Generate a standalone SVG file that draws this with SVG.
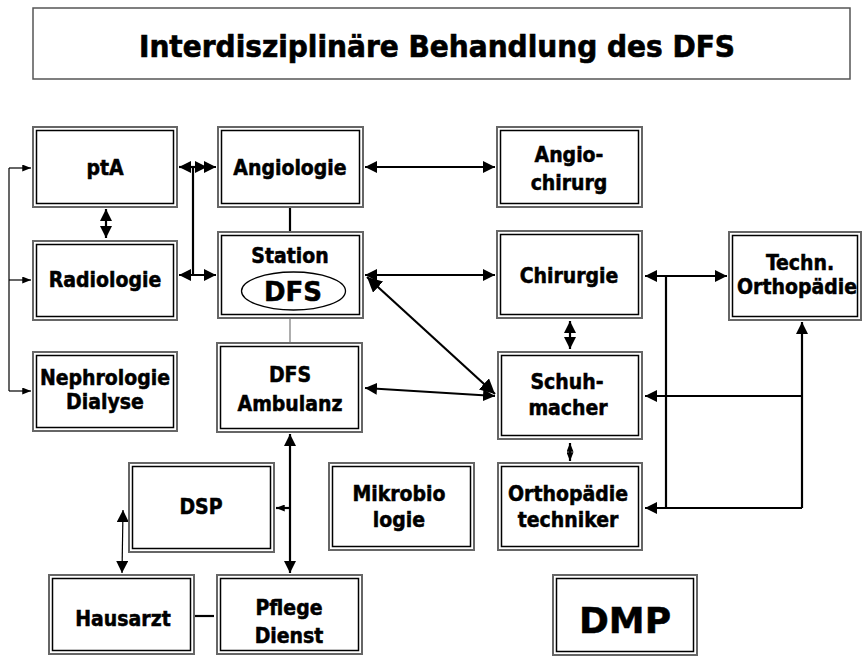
<svg xmlns="http://www.w3.org/2000/svg" width="863" height="662" viewBox="0 0 863 662">
<style>
.o{fill:#fff;stroke:#666;stroke-width:2}
.i{fill:none;stroke:#000;stroke-width:1.5}
.t{font-family:"DejaVu Sans Condensed","DejaVu Sans","Liberation Sans",sans-serif;font-weight:bold;font-size:21px;text-anchor:middle;fill:#000;stroke:#000;stroke-width:0.5}
.big{font-family:"DejaVu Sans","Liberation Sans",sans-serif}
.c{fill:none;stroke:#000;stroke-width:2.2}
.thin{fill:none;stroke:#000;stroke-width:1.2}
</style>
<defs>
<marker id="a" viewBox="0 0 12 12" refX="12" refY="6" markerWidth="12" markerHeight="12" markerUnits="userSpaceOnUse" orient="auto-start-reverse"><path d="M0,0 L12,6 L0,12 z" fill="#000"/></marker>
<marker id="b" viewBox="0 0 14 14" refX="14" refY="7" markerWidth="15" markerHeight="15" markerUnits="userSpaceOnUse" orient="auto-start-reverse"><path d="M0,0 L14,7 L0,14 z" fill="#000"/></marker>
<marker id="s" viewBox="0 0 10 8" refX="10" refY="4" markerWidth="9" markerHeight="7" markerUnits="userSpaceOnUse" orient="auto-start-reverse"><path d="M0,0 L10,4 L0,8 z" fill="#000"/></marker>
</defs>

<g id="title">
<rect x="33" y="8" width="817" height="71" fill="#fff" stroke="#555" stroke-width="1.5"/>
<text class="t" x="437" y="57" style="font-size:30px;stroke-width:0.6" textLength="596" lengthAdjust="spacingAndGlyphs">Interdisziplinäre Behandlung des DFS</text>
</g>

<g id="connectors">
<path class="thin" d="M9,168 V391"/>
<path class="thin" d="M9,168 H31" marker-end="url(#s)"/>
<path class="thin" d="M9,280 H31" marker-end="url(#s)"/>
<path class="thin" d="M9,391 H31" marker-end="url(#s)"/>
<path class="c" d="M106,209 V238" marker-start="url(#a)" marker-end="url(#a)"/>
<path class="c" d="M193,167 V275"/>
<path class="c" d="M179,167 H216" marker-start="url(#a)" marker-end="url(#a)"/>
<path class="c" d="M179,167 H207" marker-end="url(#a)"/>
<path class="c" d="M179,275 H216" marker-start="url(#a)" marker-end="url(#a)"/>
<path class="c" d="M290,207 V232"/>
<path fill="none" stroke="#777" stroke-width="1.2" d="M290,318 V343"/>
<path class="c" d="M365,167 H495" marker-start="url(#a)" marker-end="url(#a)"/>
<path class="c" d="M365,275 H495" marker-start="url(#a)" marker-end="url(#a)"/>
<path class="c" d="M367,277 L495,394" marker-start="url(#b)" marker-end="url(#b)"/>
<path class="c" d="M365,388 L495,396" marker-start="url(#a)" marker-end="url(#a)"/>
<path class="c" d="M570,321 V349" marker-start="url(#a)" marker-end="url(#a)"/>
<path class="c" d="M570,443 V461" marker-start="url(#s)" marker-end="url(#s)"/>
<path class="c" d="M645,276 H727" marker-start="url(#a)" marker-end="url(#a)"/>
<path class="c" d="M666,276 V508"/>
<path class="c" d="M802,508 V322" marker-end="url(#a)"/>
<path class="c" d="M802,396 H645" marker-end="url(#a)"/>
<path class="c" d="M802,508 H645" marker-end="url(#a)"/>
<path class="c" d="M290,434 V573" marker-start="url(#a)" marker-end="url(#a)"/>
<path class="c" d="M290,508 H276" marker-end="url(#s)"/>
<path class="thin" d="M123,510 L122,573" marker-start="url(#a)" marker-end="url(#a)"/>
<path class="c" d="M194,616 H214"/>
</g>

<g id="ptA"><rect class="o" x="33" y="127" width="144" height="80"/><rect class="i" x="36.5" y="130.5" width="137" height="73"/><text class="t" x="105" y="175">ptA</text></g>
<g id="radiologie"><rect class="o" x="33" y="241" width="144" height="79"/><rect class="i" x="36.5" y="244.5" width="137" height="72"/><text class="t" x="105" y="287">Radiologie</text></g>
<g id="nephrologie"><rect class="o" x="33" y="352" width="144" height="79"/><rect class="i" x="36.5" y="355.5" width="137" height="72"/><text class="t" x="105" y="385">Nephrologie</text><text class="t" x="105" y="409">Dialyse</text></g>
<g id="angiologie"><rect class="o" x="218" y="127" width="145" height="80"/><rect class="i" x="221.5" y="130.5" width="138" height="73"/><text class="t" x="290" y="175">Angiologie</text></g>
<g id="station"><rect class="o" x="218" y="232" width="145" height="86"/><rect class="i" x="221.5" y="235.5" width="138" height="79"/><text class="t" x="290" y="263">Station</text><ellipse cx="293.5" cy="291" rx="52" ry="19" fill="none" stroke="#000" stroke-width="1.3"/><text class="t big" x="293" y="301" style="font-size:26px">DFS</text></g>
<g id="ambulanz"><rect class="o" x="217" y="343" width="145" height="89"/><rect class="i" x="220.5" y="346.5" width="138" height="82"/><text class="t" x="290" y="382">DFS</text><text class="t" x="290" y="411">Ambulanz</text></g>
<g id="angiochirurg"><rect class="o" x="497" y="127" width="145" height="80"/><rect class="i" x="500.5" y="130.5" width="138" height="73"/><text class="t" x="569" y="162">Angio-</text><text class="t" x="569" y="190">chirurg</text></g>
<g id="chirurgie"><rect class="o" x="497" y="231" width="145" height="87"/><rect class="i" x="500.5" y="234.5" width="138" height="80"/><text class="t" x="569" y="283">Chirurgie</text></g>
<g id="technortho"><rect class="o" x="729" y="232" width="132" height="88"/><rect class="i" x="732.5" y="235.5" width="125" height="81"/><text class="t" x="800" y="270">Techn.</text><text class="t" x="797" y="294">Orthopädie</text></g>
<g id="schuhmacher"><rect class="o" x="498" y="352" width="144" height="87"/><rect class="i" x="501.5" y="355.5" width="137" height="80"/><text class="t" x="567" y="389">Schuh-</text><text class="t" x="568" y="415">macher</text></g>
<g id="orthotechniker"><rect class="o" x="498" y="463" width="144" height="87"/><rect class="i" x="501.5" y="466.5" width="137" height="80"/><text class="t" x="568" y="501">Orthopädie</text><text class="t" x="568" y="527">techniker</text></g>
<g id="mikrobio"><rect class="o" x="329" y="463" width="145" height="87"/><rect class="i" x="332.5" y="466.5" width="138" height="80"/><text class="t" x="399" y="501">Mikrobio</text><text class="t" x="399" y="527">logie</text></g>
<g id="dsp"><rect class="o" x="129" y="463" width="145" height="89"/><rect class="i" x="132.5" y="466.5" width="138" height="82"/><text class="t" x="201" y="514">DSP</text></g>
<g id="hausarzt"><rect class="o" x="49" y="575" width="145" height="79"/><rect class="i" x="52.5" y="578.5" width="138" height="72"/><text class="t" x="123" y="626">Hausarzt</text></g>
<g id="pflege"><rect class="o" x="217" y="575" width="145" height="79"/><rect class="i" x="220.5" y="578.5" width="138" height="72"/><text class="t" x="289" y="615">Pflege</text><text class="t" x="289" y="643">Dienst</text></g>
<g id="dmp"><rect class="o" x="553" y="575" width="144" height="80"/><rect class="i" x="556.5" y="578.5" width="137" height="73"/><text class="t big" x="625" y="633" style="font-size:36px">DMP</text></g>
</svg>
